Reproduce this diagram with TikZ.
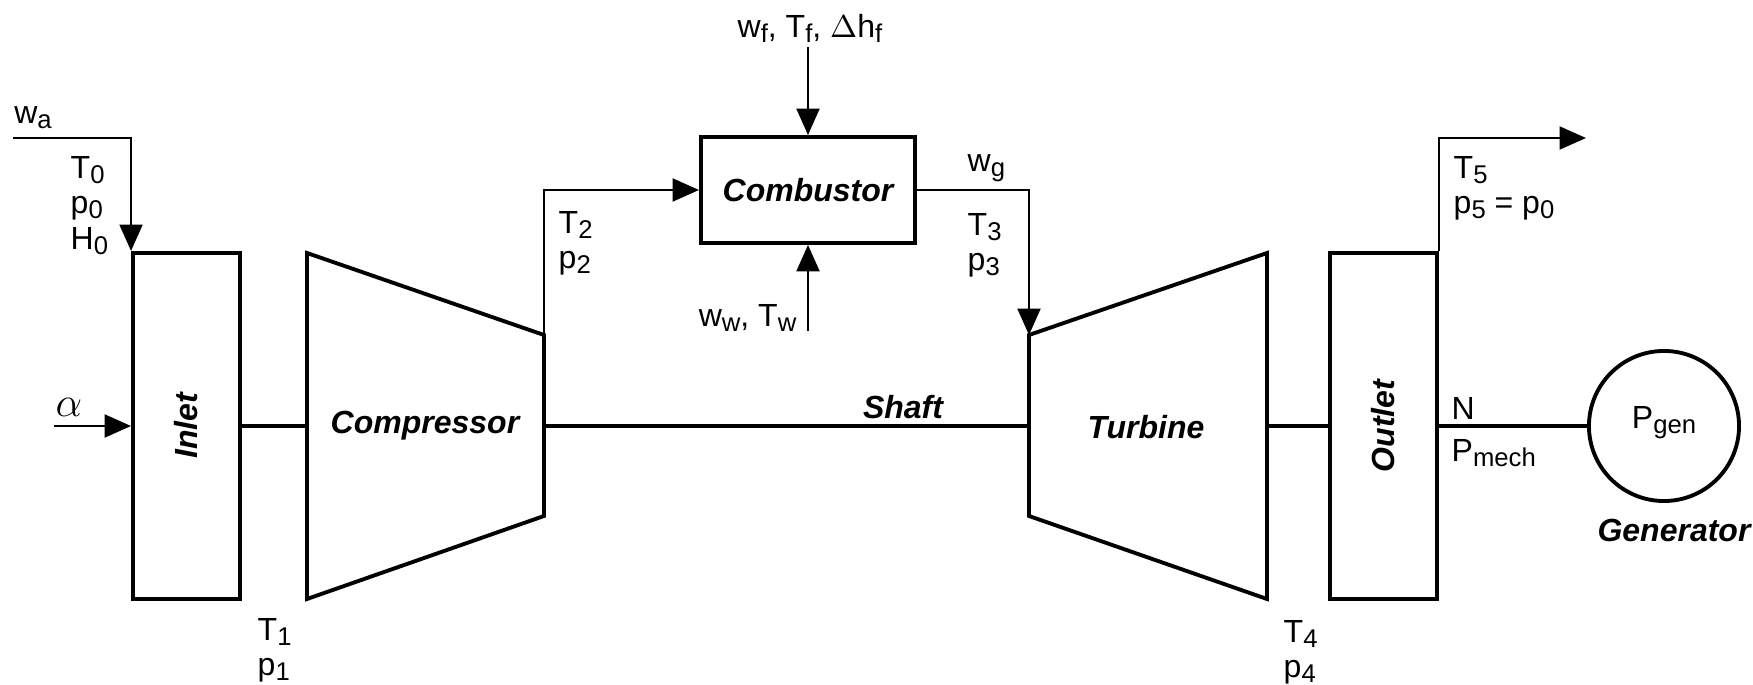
\documentclass[tikz,border=0pt]{standalone}
\usepackage{fontspec}
\setmainfont{Liberation Sans}
\usetikzlibrary{arrows.meta}

\newcommand{\lo}[1]{\raisebox{-0.3ex}{\fontsize{7.3}{7}\selectfont #1}}

\begin{document}
\begin{tikzpicture}[x=0.01cm,y=-0.01cm,
    wire/.style={line width=0.7pt},
    shaft/.style={line width=1.05pt},
    flow/.style={line width=0.7pt,-{Triangle[length=7.5pt,width=6.5pt]}},
    unit/.style={line width=1.1pt,line join=miter},
    box/.style={draw,line width=1.1pt,inner sep=0pt},
    lbl/.style={font=\fontsize{9.1}{10}\selectfont,inner sep=0pt},
    title/.style={font=\fontsize{9.1}{10}\selectfont\bfseries\itshape,inner sep=0pt}]

\useasboundingbox (0,0) rectangle (1753,685);

% Inlet and outlet ducts
\node[box,minimum width=1.07cm,minimum height=3.46cm] (inlet) at (186.5,426) {};
\node[title,rotate=90] (inletlbl) at (inlet) {Inlet};
\node[box,minimum width=1.07cm,minimum height=3.46cm] (outlet) at (1383.5,426) {};
\node[title,rotate=90] (outletlbl) at (outlet) {Outlet};

% Compressor
\coordinate (c1) at (307,253);
\coordinate (c2) at (307,599);
\coordinate (c3) at (544,516);
\coordinate (c4) at (544,335);
\draw[unit] (c1) -- (c2) -- (c3) -- (c4) -- cycle;
\node[title] (complbl) at (425,426) {Compressor};

% Turbine
\coordinate (t1) at (1029,335);
\coordinate (t2) at (1029,516);
\coordinate (t3) at (1267,599);
\coordinate (t4) at (1267,253);
\draw[unit] (t1) -- (t2) -- (t3) -- (t4) -- cycle;
\node[title] (turblbl) at (1146,427) {Turbine};

% Combustor and generator
\node[box,minimum width=2.14cm,minimum height=1.06cm] (comb) at (808,190) {};
\node[title] (comblbl) at (comb) {Combustor};
\node[box,circle,minimum size=1.5cm] (gen) at (1664,426) {};
\node[lbl] (pgen) at (1664,423) {P\lo{gen}};
\node[title] (genlbl) at (1674,530) {Generator};

% Shaft
\coordinate (cin) at (307,426);
\coordinate (cout) at (544,426);
\coordinate (tin) at (1029,426);
\coordinate (tout) at (1267,426);
\draw[shaft] (inlet.east) -- (cin);
\draw[shaft] (cout) -- (tin);
\draw[shaft] (tout) -- (outlet.west);
\draw[shaft] (outlet.east) -- (gen.west);
\node[title] (shaftlbl) at (903,407) {Shaft};

% Gas path
\coordinate (air) at (13,138);
\coordinate (aoa) at (54,426);
\coordinate (fuel) at (808,47);
\coordinate (water) at (808,331);
\coordinate (exh) at (1586,138);
\draw[flow] (air) -| (inlet.north west);
\draw[flow] (aoa) -- (inlet.west);
\draw[flow] (c4) |- (comb.west);
\draw[flow] (fuel) -- (comb.north);
\draw[flow] (water) -- (comb.south);
\draw[flow] (comb.east) -| (t1);
\draw[flow] (outlet.north east) |- (exh);

% Labels
\node[lbl] (wa) at (33,118) {w\lo{a}};
\node[lbl,align=left,anchor=north west] (st0) at (70,156) {T\lo{0}\\p\lo{0}\\H\lo{0}};
\node[lbl] (alpha) at (69,407) {\large$\alpha$};
\node[lbl,align=left,anchor=north west] (st1) at (257,618) {T\lo{1}\\p\lo{1}};
\node[lbl,align=left,anchor=north west] (st2) at (558,211) {T\lo{2}\\p\lo{2}};
\node[lbl] (fuellbl) at (810,28) {w\lo{f}, T\lo{f}, $\Delta$h\lo{f}};
\node[lbl,anchor=east] (waterlbl) at (797,318) {w\lo{w}, T\lo{w}};
\node[lbl,anchor=west] (wg) at (967,168) {w\lo{g}};
\node[lbl,align=left,anchor=north west] (st3) at (967,213) {T\lo{3}\\p\lo{3}};
\node[lbl,align=left,anchor=north west] (st4) at (1283,620) {T\lo{4}\\p\lo{4}};
\node[lbl,align=left,anchor=north west] (st5) at (1453,156) {T\lo{5}\\p\lo{5} = p\lo{0}};
\node[lbl,anchor=west] (speed) at (1451,408) {N};
\node[lbl,anchor=west] (pmech) at (1451,453) {P\lo{mech}};

\end{tikzpicture}
\end{document}
